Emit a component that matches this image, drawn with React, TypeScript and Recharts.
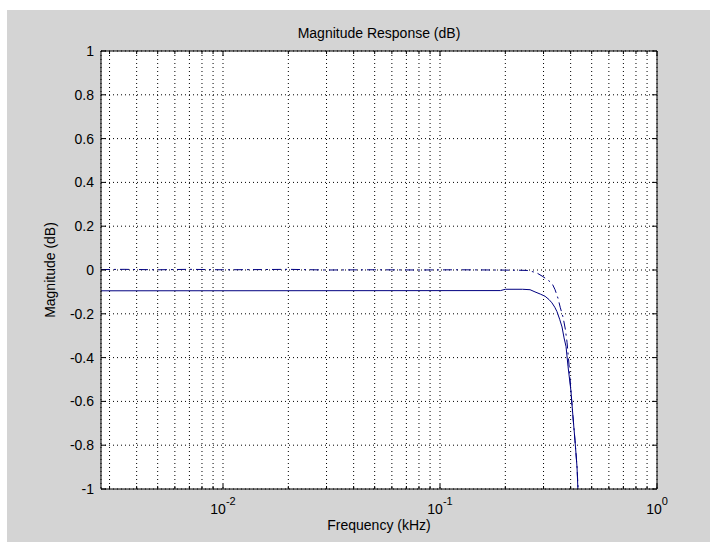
import React from 'react';
import { LineChart, Line, XAxis, YAxis, CartesianGrid } from 'recharts';

// Solid curve
const solidFreq = [0.00274, 0.19, 0.2, 0.24, 0.26, 0.274, 0.29, 0.305, 0.318, 0.328, 0.338, 0.346, 0.356, 0.365, 0.373, 0.381, 0.389, 0.401, 0.41, 0.419, 0.428, 0.432];
const solidMag = [-0.095, -0.094, -0.088, -0.088, -0.09, -0.1, -0.11, -0.12, -0.135, -0.15, -0.17, -0.19, -0.225, -0.26, -0.31, -0.35, -0.44, -0.55, -0.67, -0.78, -0.9, -1.0];

// Dash-dot curve
const dashFreq = [0.00274, 0.0035, 0.005, 0.007, 0.01, 0.015, 0.02, 0.03, 0.05, 0.08, 0.12, 0.18, 0.23, 0.252, 0.268, 0.28, 0.298, 0.31, 0.321, 0.328, 0.339, 0.35, 0.358, 0.369, 0.378, 0.385, 0.393, 0.401, 0.41, 0.419, 0.428, 0.433];
const dashMag = [0.002, 0.003, 0.001, 0.003, 0.001, 0.002, 0.003, 0.0, 0.001, 0.0, 0.001, 0.0, -0.001, -0.002, -0.008, -0.014, -0.03, -0.042, -0.053, -0.06, -0.09, -0.13, -0.17, -0.215, -0.27, -0.33, -0.43, -0.55, -0.67, -0.78, -0.9, -1.0];

const xTicks = [0.003, 0.004, 0.005, 0.006, 0.007, 0.008, 0.009, 0.01, 0.02, 0.03, 0.04, 0.05, 0.06, 0.07, 0.08, 0.09, 0.1, 0.2, 0.3, 0.4, 0.5, 0.6, 0.7, 0.8, 0.9, 1];
const xMajor = [0.01, 0.1, 1];
const xMajorExp = ['-2', '-1', '0'];

const yTicks = [-1, -0.8, -0.6, -0.4, -0.2, 0, 0.2, 0.4, 0.6, 0.8, 1];
const yTickLabels = ['-1', '-0.8', '-0.6', '-0.4', '-0.2', '0', '0.2', '0.4', '0.6', '0.8', '1'];

const titleText = 'Magnitude Response (dB)';
const xLabelText = 'Frequency (kHz)';
const yLabelText = 'Magnitude (dB)';

const solidData = solidFreq.map((f, i) => ({ f, m: solidMag[i] }));
const dashData = dashFreq.map((f, i) => ({ f, m: dashMag[i] }));

const FONT = '"Liberation Sans", Arial, sans-serif';
const LINE = '#000080';
const MAJ = 5;
const MIN = 3;

const majorIndex = (v: number) => xMajor.findIndex((m) => Math.abs(m - v) < 1e-9);

const BottomTick = (props: any) => {
  const { x, y, payload } = props;
  const idx = majorIndex(payload.value);
  const len = idx >= 0 ? MAJ : MIN;
  return (
    <g>
      <line x1={x} x2={x} y1={y} y2={y - len} stroke="#000" strokeWidth={1} />
      {idx >= 0 && (
        <text x={x} y={y + 25} textAnchor="middle" fontFamily={FONT} fontSize={14} fill="#000">
          <tspan>10</tspan>
          <tspan dy={-9} fontSize={11}>{xMajorExp[idx]}</tspan>
        </text>
      )}
    </g>
  );
};

const TopTick = (props: any) => {
  const { x, y, payload } = props;
  const idx = majorIndex(payload.value);
  const len = idx >= 0 ? MAJ : MIN;
  return <line x1={x} x2={x} y1={y} y2={y + len} stroke="#000" strokeWidth={1} />;
};

const LeftTick = (props: any) => {
  const { x, y, payload } = props;
  const i = yTicks.findIndex((t) => Math.abs(t - payload.value) < 1e-9);
  return (
    <g>
      <line x1={x} x2={x + MAJ} y1={y} y2={y} stroke="#000" strokeWidth={1} />
      <text x={x - 7} y={y} dy="0.36em" textAnchor="end" fontFamily={FONT} fontSize={14} fill="#000">
        {i >= 0 ? yTickLabels[i] : ''}
      </text>
    </g>
  );
};

const RightTick = (props: any) => {
  const { x, y } = props;
  return <line x1={x} x2={x - MAJ} y1={y} y2={y} stroke="#000" strokeWidth={1} />;
};

export default function App() {
  const W = 703;
  const H = 532;
  return (
    <div style={{ position: 'absolute', left: 7, top: 10, width: W, height: H, background: '#d4d4d4' }}>
      <div style={{ position: 'absolute', left: 94, top: 41, width: 556, height: 438, background: '#fff' }} />
      <div style={{ position: 'absolute', left: 0, top: 0 }}>
        <LineChart width={W} height={H} margin={{ top: 31, right: 43, bottom: 23, left: 54 }}>
          <CartesianGrid stroke="#000" strokeDasharray="1 3" strokeWidth={1} />
          <XAxis
            xAxisId={0}
            dataKey="f"
            type="number"
            scale="log"
            domain={[0.00274, 1]}
            allowDataOverflow
            ticks={xTicks}
            interval={0}
            height={30}
            tickSize={0}
            tickMargin={0}
            tickLine={false}
            axisLine={{ stroke: '#000' }}
            tick={BottomTick}
          />
          <XAxis
            xAxisId="top"
            orientation="top"
            dataKey="f"
            type="number"
            scale="log"
            domain={[0.00274, 1]}
            allowDataOverflow
            ticks={xTicks}
            interval={0}
            height={10}
            tickSize={0}
            tickMargin={0}
            tickLine={false}
            axisLine={{ stroke: '#000' }}
            tick={TopTick}
          />
          <YAxis
            yAxisId={0}
            type="number"
            domain={[-1, 1]}
            allowDataOverflow
            ticks={yTicks}
            interval={0}
            width={40}
            tickSize={0}
            tickMargin={0}
            tickLine={false}
            axisLine={{ stroke: '#000' }}
            tick={LeftTick}
          />
          <YAxis
            yAxisId="right"
            orientation="right"
            type="number"
            domain={[-1, 1]}
            allowDataOverflow
            ticks={yTicks}
            interval={0}
            width={10}
            tickSize={0}
            tickMargin={0}
            tickLine={false}
            axisLine={{ stroke: '#000' }}
            tick={RightTick}
          />
          <Line
            data={solidData}
            dataKey="m"
            xAxisId={0}
            yAxisId={0}
            type="linear"
            stroke={LINE}
            strokeWidth={1}
            dot={false}
            activeDot={false}
            isAnimationActive={false}
          />
          <Line
            data={dashData}
            dataKey="m"
            xAxisId={0}
            yAxisId={0}
            type="linear"
            stroke={LINE}
            strokeWidth={1}
            strokeDasharray="9 4 2 4"
            dot={false}
            activeDot={false}
            isAnimationActive={false}
          />
        </LineChart>
      </div>
      <svg width={W} height={H} style={{ position: 'absolute', left: 0, top: 0, pointerEvents: 'none' }}>
        <text x={372} y={28} textAnchor="middle" fontFamily={FONT} fontSize={14} fill="#000">{titleText}</text>
        <text x={372} y={520} textAnchor="middle" fontFamily={FONT} fontSize={14} fill="#000">{xLabelText}</text>
        <text x={48} y={260} textAnchor="middle" fontFamily={FONT} fontSize={14} fill="#000" transform="rotate(-90, 48, 260)">{yLabelText}</text>
      </svg>
    </div>
  );
}
